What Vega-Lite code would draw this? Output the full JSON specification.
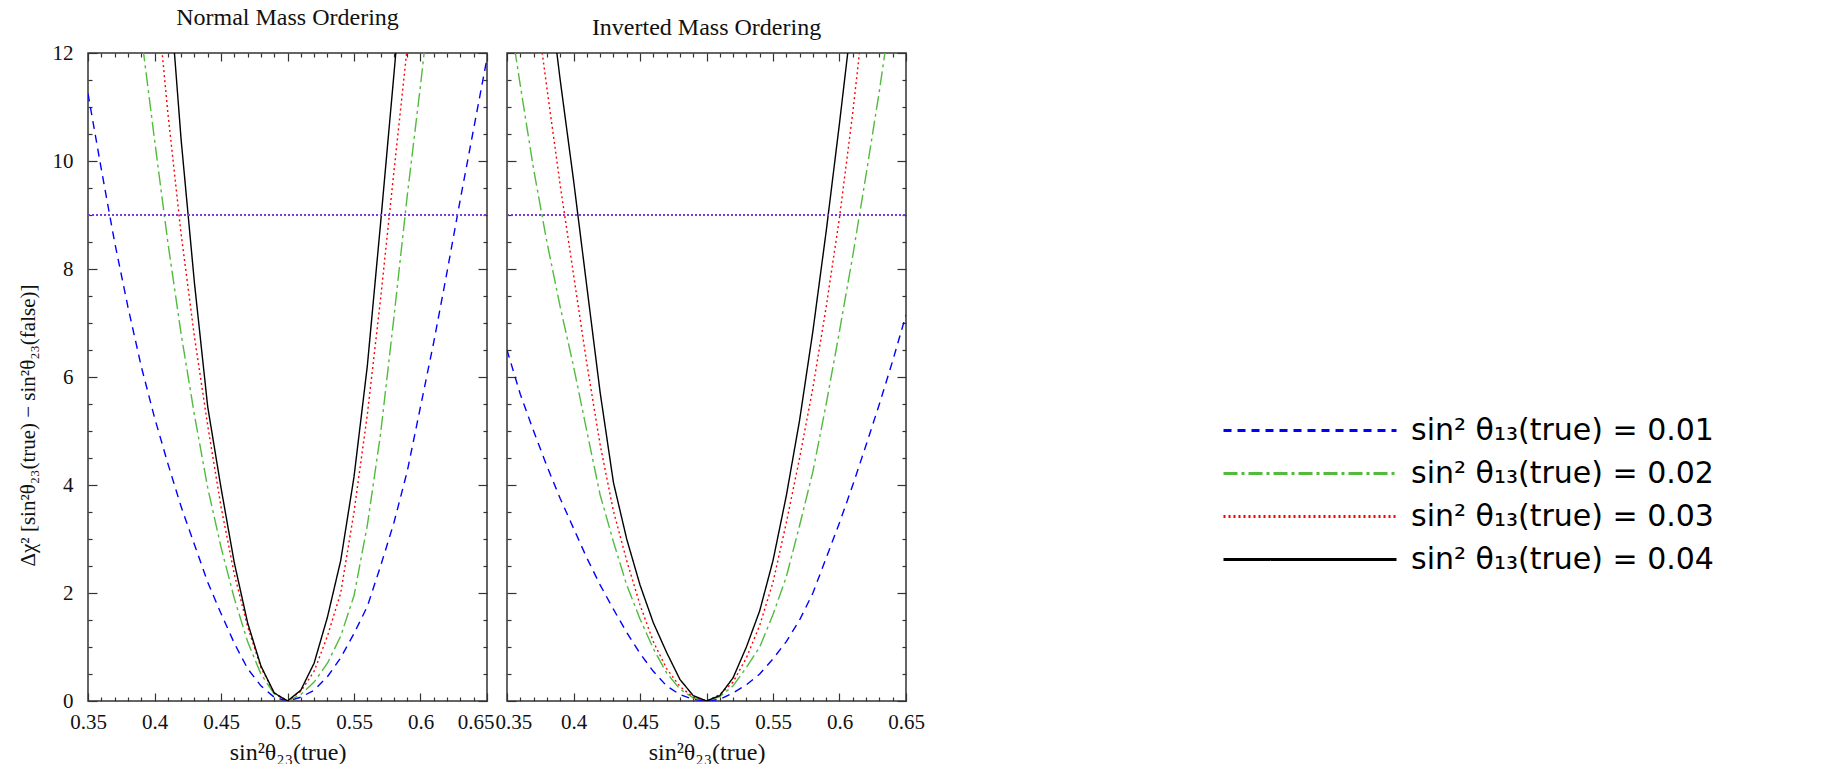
{
  "$schema": "https://vega.github.io/schema/vega-lite/v6.json",
  "padding": {"left": 16, "top": 5, "right": 5, "bottom": 5},
  "background": "white",
  "bounds": "flush",
  "datasets": {
    "curves": [
      {"ordering":"NO","s13":"0.01","x":0.35,"chi":11.25},{"ordering":"NO","s13":"0.01","x":0.36,"chi":9.85},{"ordering":"NO","s13":"0.01","x":0.37,"chi":8.5},{"ordering":"NO","s13":"0.01","x":0.38,"chi":7.3},{"ordering":"NO","s13":"0.01","x":0.39,"chi":6.2},{"ordering":"NO","s13":"0.01","x":0.4,"chi":5.25},{"ordering":"NO","s13":"0.01","x":0.41,"chi":4.4},{"ordering":"NO","s13":"0.01","x":0.42,"chi":3.6},{"ordering":"NO","s13":"0.01","x":0.43,"chi":2.9},{"ordering":"NO","s13":"0.01","x":0.44,"chi":2.2},{"ordering":"NO","s13":"0.01","x":0.45,"chi":1.62},{"ordering":"NO","s13":"0.01","x":0.46,"chi":1.07},{"ordering":"NO","s13":"0.01","x":0.47,"chi":0.6},{"ordering":"NO","s13":"0.01","x":0.48,"chi":0.28},{"ordering":"NO","s13":"0.01","x":0.49,"chi":0.07},{"ordering":"NO","s13":"0.01","x":0.5,"chi":0},{"ordering":"NO","s13":"0.01","x":0.51,"chi":0.07},{"ordering":"NO","s13":"0.01","x":0.52,"chi":0.2},{"ordering":"NO","s13":"0.01","x":0.53,"chi":0.45},{"ordering":"NO","s13":"0.01","x":0.54,"chi":0.8},{"ordering":"NO","s13":"0.01","x":0.55,"chi":1.25},{"ordering":"NO","s13":"0.01","x":0.56,"chi":1.75},{"ordering":"NO","s13":"0.01","x":0.57,"chi":2.5},{"ordering":"NO","s13":"0.01","x":0.58,"chi":3.3},{"ordering":"NO","s13":"0.01","x":0.59,"chi":4.25},{"ordering":"NO","s13":"0.01","x":0.6,"chi":5.45},{"ordering":"NO","s13":"0.01","x":0.61,"chi":6.65},{"ordering":"NO","s13":"0.01","x":0.62,"chi":7.95},{"ordering":"NO","s13":"0.01","x":0.63,"chi":9.3},{"ordering":"NO","s13":"0.01","x":0.64,"chi":10.6},{"ordering":"NO","s13":"0.01","x":0.65,"chi":11.9},
      {"ordering":"NO","s13":"0.02","x":0.38,"chi":14.4},{"ordering":"NO","s13":"0.02","x":0.39,"chi":12.35},{"ordering":"NO","s13":"0.02","x":0.4,"chi":10.4},{"ordering":"NO","s13":"0.02","x":0.41,"chi":8.5},{"ordering":"NO","s13":"0.02","x":0.42,"chi":6.8},{"ordering":"NO","s13":"0.02","x":0.43,"chi":5.3},{"ordering":"NO","s13":"0.02","x":0.44,"chi":3.95},{"ordering":"NO","s13":"0.02","x":0.45,"chi":2.85},{"ordering":"NO","s13":"0.02","x":0.46,"chi":1.9},{"ordering":"NO","s13":"0.02","x":0.47,"chi":1.1},{"ordering":"NO","s13":"0.02","x":0.48,"chi":0.5},{"ordering":"NO","s13":"0.02","x":0.49,"chi":0.13},{"ordering":"NO","s13":"0.02","x":0.5,"chi":0},{"ordering":"NO","s13":"0.02","x":0.51,"chi":0.12},{"ordering":"NO","s13":"0.02","x":0.52,"chi":0.35},{"ordering":"NO","s13":"0.02","x":0.53,"chi":0.7},{"ordering":"NO","s13":"0.02","x":0.54,"chi":1.2},{"ordering":"NO","s13":"0.02","x":0.55,"chi":1.95},{"ordering":"NO","s13":"0.02","x":0.56,"chi":3.25},{"ordering":"NO","s13":"0.02","x":0.57,"chi":4.95},{"ordering":"NO","s13":"0.02","x":0.58,"chi":7.1},{"ordering":"NO","s13":"0.02","x":0.59,"chi":9.35},{"ordering":"NO","s13":"0.02","x":0.6,"chi":11.4},{"ordering":"NO","s13":"0.02","x":0.61,"chi":13.6},
      {"ordering":"NO","s13":"0.03","x":0.39,"chi":16.2},{"ordering":"NO","s13":"0.03","x":0.4,"chi":13.5},{"ordering":"NO","s13":"0.03","x":0.41,"chi":10.9},{"ordering":"NO","s13":"0.03","x":0.42,"chi":8.65},{"ordering":"NO","s13":"0.03","x":0.43,"chi":6.75},{"ordering":"NO","s13":"0.03","x":0.44,"chi":5.1},{"ordering":"NO","s13":"0.03","x":0.45,"chi":3.6},{"ordering":"NO","s13":"0.03","x":0.46,"chi":2.35},{"ordering":"NO","s13":"0.03","x":0.47,"chi":1.38},{"ordering":"NO","s13":"0.03","x":0.48,"chi":0.62},{"ordering":"NO","s13":"0.03","x":0.49,"chi":0.15},{"ordering":"NO","s13":"0.03","x":0.5,"chi":0},{"ordering":"NO","s13":"0.03","x":0.51,"chi":0.18},{"ordering":"NO","s13":"0.03","x":0.52,"chi":0.55},{"ordering":"NO","s13":"0.03","x":0.53,"chi":1.2},{"ordering":"NO","s13":"0.03","x":0.54,"chi":2.0},{"ordering":"NO","s13":"0.03","x":0.55,"chi":3.5},{"ordering":"NO","s13":"0.03","x":0.56,"chi":5.3},{"ordering":"NO","s13":"0.03","x":0.57,"chi":7.45},{"ordering":"NO","s13":"0.03","x":0.58,"chi":9.8},{"ordering":"NO","s13":"0.03","x":0.59,"chi":12.1},{"ordering":"NO","s13":"0.03","x":0.6,"chi":14.6},
      {"ordering":"NO","s13":"0.04","x":0.41,"chi":13.6},{"ordering":"NO","s13":"0.04","x":0.42,"chi":10.4},{"ordering":"NO","s13":"0.04","x":0.43,"chi":7.75},{"ordering":"NO","s13":"0.04","x":0.44,"chi":5.45},{"ordering":"NO","s13":"0.04","x":0.45,"chi":3.95},{"ordering":"NO","s13":"0.04","x":0.46,"chi":2.56},{"ordering":"NO","s13":"0.04","x":0.47,"chi":1.45},{"ordering":"NO","s13":"0.04","x":0.48,"chi":0.65},{"ordering":"NO","s13":"0.04","x":0.49,"chi":0.15},{"ordering":"NO","s13":"0.04","x":0.5,"chi":0},{"ordering":"NO","s13":"0.04","x":0.51,"chi":0.2},{"ordering":"NO","s13":"0.04","x":0.52,"chi":0.7},{"ordering":"NO","s13":"0.04","x":0.53,"chi":1.55},{"ordering":"NO","s13":"0.04","x":0.54,"chi":2.6},{"ordering":"NO","s13":"0.04","x":0.55,"chi":4.15},{"ordering":"NO","s13":"0.04","x":0.56,"chi":6.2},{"ordering":"NO","s13":"0.04","x":0.57,"chi":8.85},{"ordering":"NO","s13":"0.04","x":0.58,"chi":11.6},{"ordering":"NO","s13":"0.04","x":0.59,"chi":14.4},
      {"ordering":"IO","s13":"0.01","x":0.35,"chi":6.5},{"ordering":"IO","s13":"0.01","x":0.36,"chi":5.68},{"ordering":"IO","s13":"0.01","x":0.37,"chi":5.0},{"ordering":"IO","s13":"0.01","x":0.38,"chi":4.35},{"ordering":"IO","s13":"0.01","x":0.39,"chi":3.75},{"ordering":"IO","s13":"0.01","x":0.4,"chi":3.2},{"ordering":"IO","s13":"0.01","x":0.41,"chi":2.65},{"ordering":"IO","s13":"0.01","x":0.42,"chi":2.15},{"ordering":"IO","s13":"0.01","x":0.43,"chi":1.7},{"ordering":"IO","s13":"0.01","x":0.44,"chi":1.27},{"ordering":"IO","s13":"0.01","x":0.45,"chi":0.88},{"ordering":"IO","s13":"0.01","x":0.46,"chi":0.55},{"ordering":"IO","s13":"0.01","x":0.47,"chi":0.28},{"ordering":"IO","s13":"0.01","x":0.48,"chi":0.12},{"ordering":"IO","s13":"0.01","x":0.49,"chi":0.03},{"ordering":"IO","s13":"0.01","x":0.5,"chi":0},{"ordering":"IO","s13":"0.01","x":0.51,"chi":0.03},{"ordering":"IO","s13":"0.01","x":0.52,"chi":0.15},{"ordering":"IO","s13":"0.01","x":0.53,"chi":0.3},{"ordering":"IO","s13":"0.01","x":0.54,"chi":0.5},{"ordering":"IO","s13":"0.01","x":0.55,"chi":0.78},{"ordering":"IO","s13":"0.01","x":0.56,"chi":1.1},{"ordering":"IO","s13":"0.01","x":0.57,"chi":1.5},{"ordering":"IO","s13":"0.01","x":0.58,"chi":2.0},{"ordering":"IO","s13":"0.01","x":0.59,"chi":2.65},{"ordering":"IO","s13":"0.01","x":0.6,"chi":3.3},{"ordering":"IO","s13":"0.01","x":0.61,"chi":4.0},{"ordering":"IO","s13":"0.01","x":0.62,"chi":4.74},{"ordering":"IO","s13":"0.01","x":0.63,"chi":5.5},{"ordering":"IO","s13":"0.01","x":0.64,"chi":6.3},{"ordering":"IO","s13":"0.01","x":0.65,"chi":7.15},
      {"ordering":"IO","s13":"0.02","x":0.35,"chi":13.0},{"ordering":"IO","s13":"0.02","x":0.36,"chi":11.4},{"ordering":"IO","s13":"0.02","x":0.37,"chi":9.85},{"ordering":"IO","s13":"0.02","x":0.38,"chi":8.5},{"ordering":"IO","s13":"0.02","x":0.39,"chi":7.3},{"ordering":"IO","s13":"0.02","x":0.4,"chi":6.2},{"ordering":"IO","s13":"0.02","x":0.41,"chi":5.0},{"ordering":"IO","s13":"0.02","x":0.42,"chi":3.82},{"ordering":"IO","s13":"0.02","x":0.43,"chi":2.95},{"ordering":"IO","s13":"0.02","x":0.44,"chi":2.15},{"ordering":"IO","s13":"0.02","x":0.45,"chi":1.52},{"ordering":"IO","s13":"0.02","x":0.46,"chi":0.97},{"ordering":"IO","s13":"0.02","x":0.47,"chi":0.52},{"ordering":"IO","s13":"0.02","x":0.48,"chi":0.22},{"ordering":"IO","s13":"0.02","x":0.49,"chi":0.06},{"ordering":"IO","s13":"0.02","x":0.5,"chi":0},{"ordering":"IO","s13":"0.02","x":0.51,"chi":0.08},{"ordering":"IO","s13":"0.02","x":0.52,"chi":0.28},{"ordering":"IO","s13":"0.02","x":0.53,"chi":0.62},{"ordering":"IO","s13":"0.02","x":0.54,"chi":1.0},{"ordering":"IO","s13":"0.02","x":0.55,"chi":1.6},{"ordering":"IO","s13":"0.02","x":0.56,"chi":2.3},{"ordering":"IO","s13":"0.02","x":0.57,"chi":3.25},{"ordering":"IO","s13":"0.02","x":0.58,"chi":4.25},{"ordering":"IO","s13":"0.02","x":0.59,"chi":5.5},{"ordering":"IO","s13":"0.02","x":0.6,"chi":6.85},{"ordering":"IO","s13":"0.02","x":0.61,"chi":8.25},{"ordering":"IO","s13":"0.02","x":0.62,"chi":9.75},{"ordering":"IO","s13":"0.02","x":0.63,"chi":11.3},{"ordering":"IO","s13":"0.02","x":0.64,"chi":13.0},
      {"ordering":"IO","s13":"0.03","x":0.37,"chi":13.2},{"ordering":"IO","s13":"0.03","x":0.38,"chi":11.35},{"ordering":"IO","s13":"0.03","x":0.39,"chi":9.55},{"ordering":"IO","s13":"0.03","x":0.4,"chi":7.9},{"ordering":"IO","s13":"0.03","x":0.41,"chi":6.25},{"ordering":"IO","s13":"0.03","x":0.42,"chi":4.75},{"ordering":"IO","s13":"0.03","x":0.43,"chi":3.52},{"ordering":"IO","s13":"0.03","x":0.44,"chi":2.6},{"ordering":"IO","s13":"0.03","x":0.45,"chi":1.78},{"ordering":"IO","s13":"0.03","x":0.46,"chi":1.1},{"ordering":"IO","s13":"0.03","x":0.47,"chi":0.6},{"ordering":"IO","s13":"0.03","x":0.48,"chi":0.27},{"ordering":"IO","s13":"0.03","x":0.49,"chi":0.07},{"ordering":"IO","s13":"0.03","x":0.5,"chi":0},{"ordering":"IO","s13":"0.03","x":0.51,"chi":0.12},{"ordering":"IO","s13":"0.03","x":0.52,"chi":0.35},{"ordering":"IO","s13":"0.03","x":0.53,"chi":0.8},{"ordering":"IO","s13":"0.03","x":0.54,"chi":1.4},{"ordering":"IO","s13":"0.03","x":0.55,"chi":2.2},{"ordering":"IO","s13":"0.03","x":0.56,"chi":3.3},{"ordering":"IO","s13":"0.03","x":0.57,"chi":4.5},{"ordering":"IO","s13":"0.03","x":0.58,"chi":5.8},{"ordering":"IO","s13":"0.03","x":0.59,"chi":7.3},{"ordering":"IO","s13":"0.03","x":0.6,"chi":8.95},{"ordering":"IO","s13":"0.03","x":0.61,"chi":10.9},{"ordering":"IO","s13":"0.03","x":0.62,"chi":13.1},
      {"ordering":"IO","s13":"0.04","x":0.38,"chi":13.5},{"ordering":"IO","s13":"0.04","x":0.39,"chi":11.5},{"ordering":"IO","s13":"0.04","x":0.4,"chi":9.65},{"ordering":"IO","s13":"0.04","x":0.41,"chi":7.68},{"ordering":"IO","s13":"0.04","x":0.42,"chi":5.72},{"ordering":"IO","s13":"0.04","x":0.43,"chi":4.05},{"ordering":"IO","s13":"0.04","x":0.44,"chi":3.0},{"ordering":"IO","s13":"0.04","x":0.45,"chi":2.15},{"ordering":"IO","s13":"0.04","x":0.46,"chi":1.45},{"ordering":"IO","s13":"0.04","x":0.47,"chi":0.9},{"ordering":"IO","s13":"0.04","x":0.48,"chi":0.4},{"ordering":"IO","s13":"0.04","x":0.49,"chi":0.1},{"ordering":"IO","s13":"0.04","x":0.5,"chi":0},{"ordering":"IO","s13":"0.04","x":0.51,"chi":0.1},{"ordering":"IO","s13":"0.04","x":0.52,"chi":0.43},{"ordering":"IO","s13":"0.04","x":0.53,"chi":1.0},{"ordering":"IO","s13":"0.04","x":0.54,"chi":1.67},{"ordering":"IO","s13":"0.04","x":0.55,"chi":2.6},{"ordering":"IO","s13":"0.04","x":0.56,"chi":3.8},{"ordering":"IO","s13":"0.04","x":0.57,"chi":5.2},{"ordering":"IO","s13":"0.04","x":0.58,"chi":6.85},{"ordering":"IO","s13":"0.04","x":0.59,"chi":8.7},{"ordering":"IO","s13":"0.04","x":0.6,"chi":10.7},{"ordering":"IO","s13":"0.04","x":0.61,"chi":12.8}
    ]
  },
  "spacing": 20,
  "hconcat": [
    {
      "width": 399,
      "height": 648,
      "title": {"text": "Normal Mass Ordering", "font": "Liberation Serif", "fontSize": 24, "fontWeight": "normal", "color": "#111", "offset": 12},
      "data": {"name": "curves"},
      "transform": [{"filter": "datum.ordering == 'NO'"}],
      "layer": [
        {
          "mark": {"type": "line", "clip": true, "strokeWidth": 1.4},
          "encoding": {
            "x": {"field": "x", "type": "quantitative", "scale": {"domain": [0.35, 0.65], "nice": false, "zero": false},
              "axis": {"orient": "bottom", "title": "sin²θ₂₃(true)", "values": [0.35,0.36,0.37,0.38,0.39,0.4,0.41,0.42,0.43,0.44,0.45,0.46,0.47,0.48,0.49,0.5,0.51,0.52,0.53,0.54,0.55,0.56,0.57,0.58,0.59,0.6,0.61,0.62,0.63,0.64,0.65],
                "tickSize": {"condition": {"test": "round(datum.value*100) % 5 == 0", "value": -8}, "value": -4},
                "labelExpr": "round(datum.value*100) % 5 == 0 ? format(datum.value, '~g') : ''",
                "labelAlign": {"condition": {"test": "datum.value > 0.645", "value": "right"}, "value": "center"},
                "labelOffset": {"condition": {"test": "datum.value > 0.645", "value": 7}, "value": 0},
                "labelPadding": 18, "titlePadding": 4}},
            "y": {"field": "chi", "type": "quantitative", "scale": {"domain": [0, 12], "nice": false, "zero": false},
              "axis": {"orient": "left", "title": "Δχ² [sin²θ₂₃(true) − sin²θ₂₃(false)]", "titleFontSize": 21, "titleX": -60, "titleY": 372, "titleBaseline": "middle", "titleAngle": 270, "titleAlign": "center", "values": [0,0.5,1,1.5,2,2.5,3,3.5,4,4.5,5,5.5,6,6.5,7,7.5,8,8.5,9,9.5,10,10.5,11,11.5,12],
                "tickSize": {"condition": {"test": "round(datum.value*2) % 4 == 0", "value": -9}, "value": -4},
                "labelExpr": "round(datum.value*2) % 4 == 0 ? format(datum.value, '~g') : ''",
                "labelPadding": 24}},
            "color": {"field": "s13", "type": "nominal", "scale": {"domain": ["0.01","0.02","0.03","0.04"], "range": ["#0000ff","#52bb3c","#ff0000","#000000"]},
              "legend": {"orient": "none", "legendX": 1134, "legendY": 356, "title": null, "labelExpr": "'sin² θ₁₃(true) = ' + datum.label"}},
            "strokeDash": {"field": "s13", "type": "nominal", "scale": {"domain": ["0.01","0.02","0.03","0.04"], "range": [[8,6],[14,4,3,4],[2,3],[1,0]]},
              "legend": {"orient": "none", "legendX": 1134, "legendY": 356, "title": null, "labelExpr": "'sin² θ₁₃(true) = ' + datum.label"}}
          }
        },
        {
          "mark": {"type": "rule", "color": "#7e3ae0", "strokeDash": [2, 2], "strokeWidth": 1.1},
          "encoding": {
            "x": {"datum": 0.35, "type": "quantitative", "axis": {"orient": "top", "title": null, "labels": false, "minExtent": 0, "maxExtent": 0, "values": [0.35,0.36,0.37,0.38,0.39,0.4,0.41,0.42,0.43,0.44,0.45,0.46,0.47,0.48,0.49,0.5,0.51,0.52,0.53,0.54,0.55,0.56,0.57,0.58,0.59,0.6,0.61,0.62,0.63,0.64,0.65],
                "tickSize": {"condition": {"test": "round(datum.value*100) % 5 == 0", "value": -8}, "value": -4}}},
            "x2": {"datum": 0.65},
            "y": {"datum": 9, "type": "quantitative", "axis": {"orient": "right", "title": null, "labels": false, "minExtent": 0, "maxExtent": 0, "values": [0,0.5,1,1.5,2,2.5,3,3.5,4,4.5,5,5.5,6,6.5,7,7.5,8,8.5,9,9.5,10,10.5,11,11.5,12],
                "tickSize": {"condition": {"test": "round(datum.value*2) % 4 == 0", "value": -9}, "value": -4}}}
          }
        }
      ],
      "resolve": {"axis": {"x": "independent", "y": "independent"}}
    },
    {
      "width": 399,
      "height": 648,
      "title": {"text": "Inverted Mass Ordering", "font": "Liberation Serif", "fontSize": 24, "fontWeight": "normal", "color": "#111", "offset": 12},
      "data": {"name": "curves"},
      "transform": [{"filter": "datum.ordering == 'IO'"}],
      "layer": [
        {
          "mark": {"type": "line", "clip": true, "strokeWidth": 1.4},
          "encoding": {
            "x": {"field": "x", "type": "quantitative", "scale": {"domain": [0.35, 0.65], "nice": false, "zero": false},
              "axis": {"orient": "bottom", "title": "sin²θ₂₃(true)", "values": [0.35,0.36,0.37,0.38,0.39,0.4,0.41,0.42,0.43,0.44,0.45,0.46,0.47,0.48,0.49,0.5,0.51,0.52,0.53,0.54,0.55,0.56,0.57,0.58,0.59,0.6,0.61,0.62,0.63,0.64,0.65],
                "tickSize": {"condition": {"test": "round(datum.value*100) % 5 == 0", "value": -8}, "value": -4},
                "labelExpr": "round(datum.value*100) % 5 == 0 ? format(datum.value, '~g') : ''",
                "labelAlign": {"condition": {"test": "datum.value < 0.355", "value": "left"}, "value": "center"},
                "labelOffset": {"condition": {"test": "datum.value < 0.355", "value": -12}, "value": 0},
                "labelPadding": 18, "titlePadding": 4}},
            "y": {"field": "chi", "type": "quantitative", "scale": {"domain": [0, 12], "nice": false, "zero": false},
              "axis": {"orient": "left", "title": null, "labels": false, "minExtent": 0, "maxExtent": 0, "values": [0,0.5,1,1.5,2,2.5,3,3.5,4,4.5,5,5.5,6,6.5,7,7.5,8,8.5,9,9.5,10,10.5,11,11.5,12],
                "tickSize": {"condition": {"test": "round(datum.value*2) % 4 == 0", "value": -9}, "value": -4}}},
            "color": {"field": "s13", "type": "nominal", "scale": {"domain": ["0.01","0.02","0.03","0.04"], "range": ["#0000ff","#52bb3c","#ff0000","#000000"]},
              "legend": {"orient": "none", "legendX": 1134, "legendY": 356, "title": null, "labelExpr": "'sin² θ₁₃(true) = ' + datum.label"}},
            "strokeDash": {"field": "s13", "type": "nominal", "scale": {"domain": ["0.01","0.02","0.03","0.04"], "range": [[8,6],[14,4,3,4],[2,3],[1,0]]},
              "legend": {"orient": "none", "legendX": 1134, "legendY": 356, "title": null, "labelExpr": "'sin² θ₁₃(true) = ' + datum.label"}}
          }
        },
        {
          "mark": {"type": "rule", "color": "#7e3ae0", "strokeDash": [2, 2], "strokeWidth": 1.1},
          "encoding": {
            "x": {"datum": 0.35, "type": "quantitative", "axis": {"orient": "top", "title": null, "labels": false, "minExtent": 0, "maxExtent": 0, "values": [0.35,0.36,0.37,0.38,0.39,0.4,0.41,0.42,0.43,0.44,0.45,0.46,0.47,0.48,0.49,0.5,0.51,0.52,0.53,0.54,0.55,0.56,0.57,0.58,0.59,0.6,0.61,0.62,0.63,0.64,0.65],
                "tickSize": {"condition": {"test": "round(datum.value*100) % 5 == 0", "value": -8}, "value": -4}}},
            "x2": {"datum": 0.65},
            "y": {"datum": 9, "type": "quantitative", "axis": {"orient": "right", "title": null, "labels": false, "minExtent": 0, "maxExtent": 0, "values": [0,0.5,1,1.5,2,2.5,3,3.5,4,4.5,5,5.5,6,6.5,7,7.5,8,8.5,9,9.5,10,10.5,11,11.5,12],
                "tickSize": {"condition": {"test": "round(datum.value*2) % 4 == 0", "value": -9}, "value": -4}}}
          }
        }
      ],
      "resolve": {"axis": {"x": "independent", "y": "independent"}}
    }
  ],
  "config": {
    "view": {"stroke": "#333", "strokeWidth": 1.5},
    "axis": {"grid": false, "domain": false, "tickColor": "#333", "tickWidth": 1.2, "labelFont": "Liberation Serif", "labelFontSize": 21, "labelColor": "#111", "labelFlush": false, "labelOverlap": false, "titleFont": "Liberation Serif", "titleFontSize": 24, "titleFontWeight": "normal", "titleColor": "#111"},
    "legend": {"symbolType": "stroke", "symbolSize": 29929, "symbolStrokeWidth": 3, "clipHeight": 43, "rowPadding": 0, "labelFont": "DejaVu Sans", "labelFontSize": 30, "labelColor": "#000", "labelOffset": 13, "labelLimit": 0}
  }
}
